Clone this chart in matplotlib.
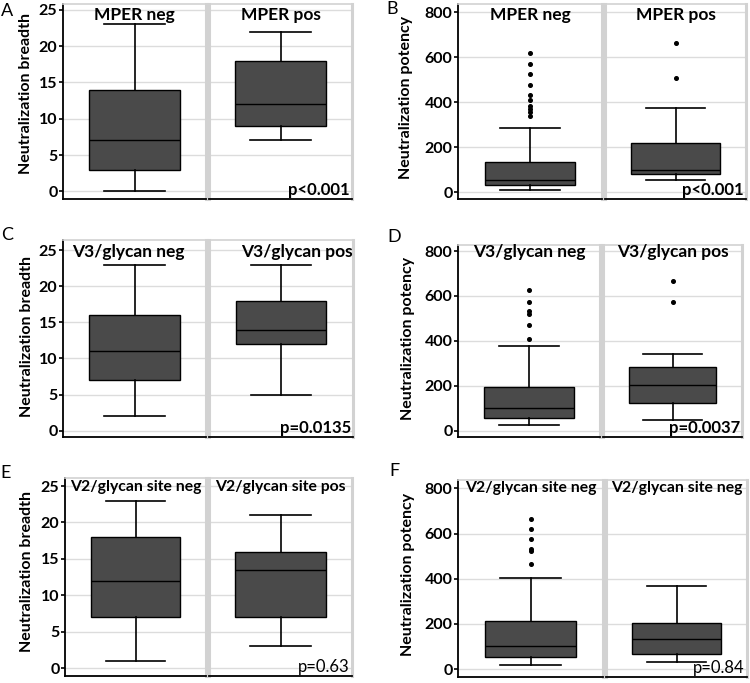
import matplotlib.pyplot as plt

plt.rcParams['font.family'] = ['Lato', 'DejaVu Sans']

W, H = 750, 683

# box stats: [whisker low, q1, median, q3, whisker high]
mper_breadth_neg = [0, 3, 7, 14, 23]
mper_breadth_pos = [7, 9, 12, 18, 22]
mper_potency_neg = [8, 32, 55, 135, 285]
mper_potency_neg_out = [620, 570, 525, 475, 430, 410, 385, 370, 355, 340]
mper_potency_pos = [52, 80, 100, 220, 372]
mper_potency_pos_out = [663, 508]

v3_breadth_neg = [2, 7, 11, 16, 23]
v3_breadth_pos = [5, 12, 14, 18, 23]
v3_potency_neg = [25, 55, 99, 193, 379]
v3_potency_neg_out = [625, 575, 533, 518, 471, 408]
v3_potency_pos = [46, 123, 202, 282, 342]
v3_potency_pos_out = [668, 573]

v2_breadth_neg = [1, 7, 12, 18, 23]
v2_breadth_pos = [3, 7, 13.5, 16, 21]
v2_potency_neg = [16, 52, 102, 215, 404]
v2_potency_neg_out = [664, 622, 574, 532, 522, 467]
v2_potency_pos = [31, 65, 131, 203, 367]
v2_potency_pos_out = []

breadth_ticks = [0, 5, 10, 15, 20, 25]
potency_ticks = [0, 200, 400, 600, 800]

GRAY = '#d2d2d2'
BOX = '#4a4a4a'


def to_stats(s, out):
    return dict(whislo=s[0], q1=s[1], med=s[2], q3=s[3], whishi=s[4], fliers=out)


def rect(x0, x1, y0, y1):
    return [x0 / W, 1 - y1 / H, (x1 - x0) / W, (y1 - y0) / H]


fig = plt.figure(figsize=(W / 100, H / 100), dpi=100)


def panel(letter, lpos, ylabel, ylpos, ticks, ylim, edges, top, bottom,
          groups, ptext, pbold, tsize=12.5):
    x0, x1, x2, x3 = edges
    ax1 = fig.add_axes(rect(x0, x1, top, bottom))
    ax2 = fig.add_axes(rect(x2, x3, top, bottom), sharey=ax1)
    for i, ax in enumerate([ax1, ax2]):
        label, stats, out, tx, ha, ty = groups[i]
        ax.bxp([to_stats(stats, out)], positions=[0], widths=0.63, capwidths=0.42,
               patch_artist=True,
               boxprops=dict(facecolor=BOX, edgecolor='black', linewidth=1),
               medianprops=dict(color='black', linewidth=1),
               whiskerprops=dict(color='black', linewidth=1.2),
               capprops=dict(color='black', linewidth=1.2),
               flierprops=dict(marker='o', markersize=2.6, markerfacecolor='black',
                               markeredgecolor='black'))
        ax.set_xlim(-0.5, 0.5)
        ax.set_ylim(*ylim)
        ax.set_yticks(ticks)
        ax.set_xticks([])
        ax.yaxis.grid(True, color='#dcdcdc', linewidth=1)
        ax.set_axisbelow(True)
        ax.spines['top'].set_color(GRAY)
        ax.spines['top'].set_linewidth(1.2)
        ax.spines['bottom'].set_color('black')
        ax.spines['bottom'].set_linewidth(1.3)
        ax.spines['right'].set_color(GRAY)
        ax.spines['right'].set_linewidth(2.2)
        ax.text(tx, ty, label, transform=ax.transAxes, ha=ha, va='center',
                fontsize=tsize, fontweight='bold')
    ax1.spines['left'].set_color('black')
    ax1.spines['left'].set_linewidth(1.3)
    ax2.spines['left'].set_color(GRAY)
    ax2.spines['left'].set_linewidth(2.2)
    ax1.tick_params(axis='y', length=3, width=1.2, pad=1, labelsize=11.5)
    for t in ax1.get_yticklabels():
        t.set_fontweight('bold')
    ax2.tick_params(axis='y', left=False, labelleft=False)
    ax2.text(0.985, 0.045, ptext, transform=ax2.transAxes, ha='right', va='center',
             fontsize=12, fontweight='bold' if pbold else 'normal')
    fig.text(lpos[0] / W, 1 - lpos[1] / H, letter, ha='left', va='top', fontsize=13)
    fig.text(ylpos[0] / W, 1 - ylpos[1] / H, ylabel, rotation=90, ha='center',
             va='center', fontsize=11.5, fontweight='bold')


panel('A', (1, 3), 'Neutralization breadth', (26, 93), breadth_ticks, (-1.06, 25.8),
      (63, 206, 209, 352), 4, 199,
      [('MPER neg', mper_breadth_neg, [], 0.5, 'center', 0.945),
       ('MPER pos', mper_breadth_pos, [], 0.5, 'center', 0.945)],
      'p<0.001', True)

panel('B', (386, 1), 'Neutralization potency', (406, 97), potency_ticks, (-31, 837),
      (458, 602, 605, 746), 4, 199,
      [('MPER neg', mper_potency_neg, mper_potency_neg_out, 0.5, 'center', 0.945),
       ('MPER pos', mper_potency_pos, mper_potency_pos_out, 0.5, 'center', 0.945)],
      'p<0.001', True)

panel('C', (1, 227), 'Neutralization breadth', (27, 337), breadth_ticks, (-0.87, 26.4),
      (63, 206, 209, 353), 240, 437,
      [('V3/glycan neg', v3_breadth_neg, [], 0.46, 'center', 0.94),
       ('V3/glycan pos', v3_breadth_pos, [], 0.995, 'right', 0.94)],
      'p=0.0135', True)

panel('D', (387, 229), 'Neutralization potency', (408, 338), potency_ticks, (-28, 827),
      (458, 600, 603, 742), 245, 437,
      [('V3/glycan neg', v3_potency_neg, v3_potency_neg_out, 0.5, 'center', 0.965),
       ('V3/glycan pos', v3_potency_pos, v3_potency_pos_out, 0.5, 'center', 0.965)],
      'p=0.0037', True)

panel('E', (0, 465), 'Neutralization breadth', (27, 572), breadth_ticks, (-1.05, 26.1),
      (65, 206, 209, 352), 478, 676,
      [('V2/glycan site neg', v2_breadth_neg, [], 0.5, 'center', 0.955),
       ('V2/glycan site pos', v2_breadth_pos, [], 0.5, 'center', 0.955)],
      'p=0.63', False, tsize=11.3)

panel('F', (389, 463), 'Neutralization potency', (408, 574), potency_ticks, (-35, 837),
      (458, 603, 606, 747), 480, 677,
      [('V2/glycan site neg', v2_potency_neg, v2_potency_neg_out, 0.5, 'center', 0.96),
       ('V2/glycan site neg', v2_potency_pos, v2_potency_pos_out, 0.5, 'center', 0.96)],
      'p=0.84', False, tsize=11.3)

fig.savefig('out.png', dpi=100)
